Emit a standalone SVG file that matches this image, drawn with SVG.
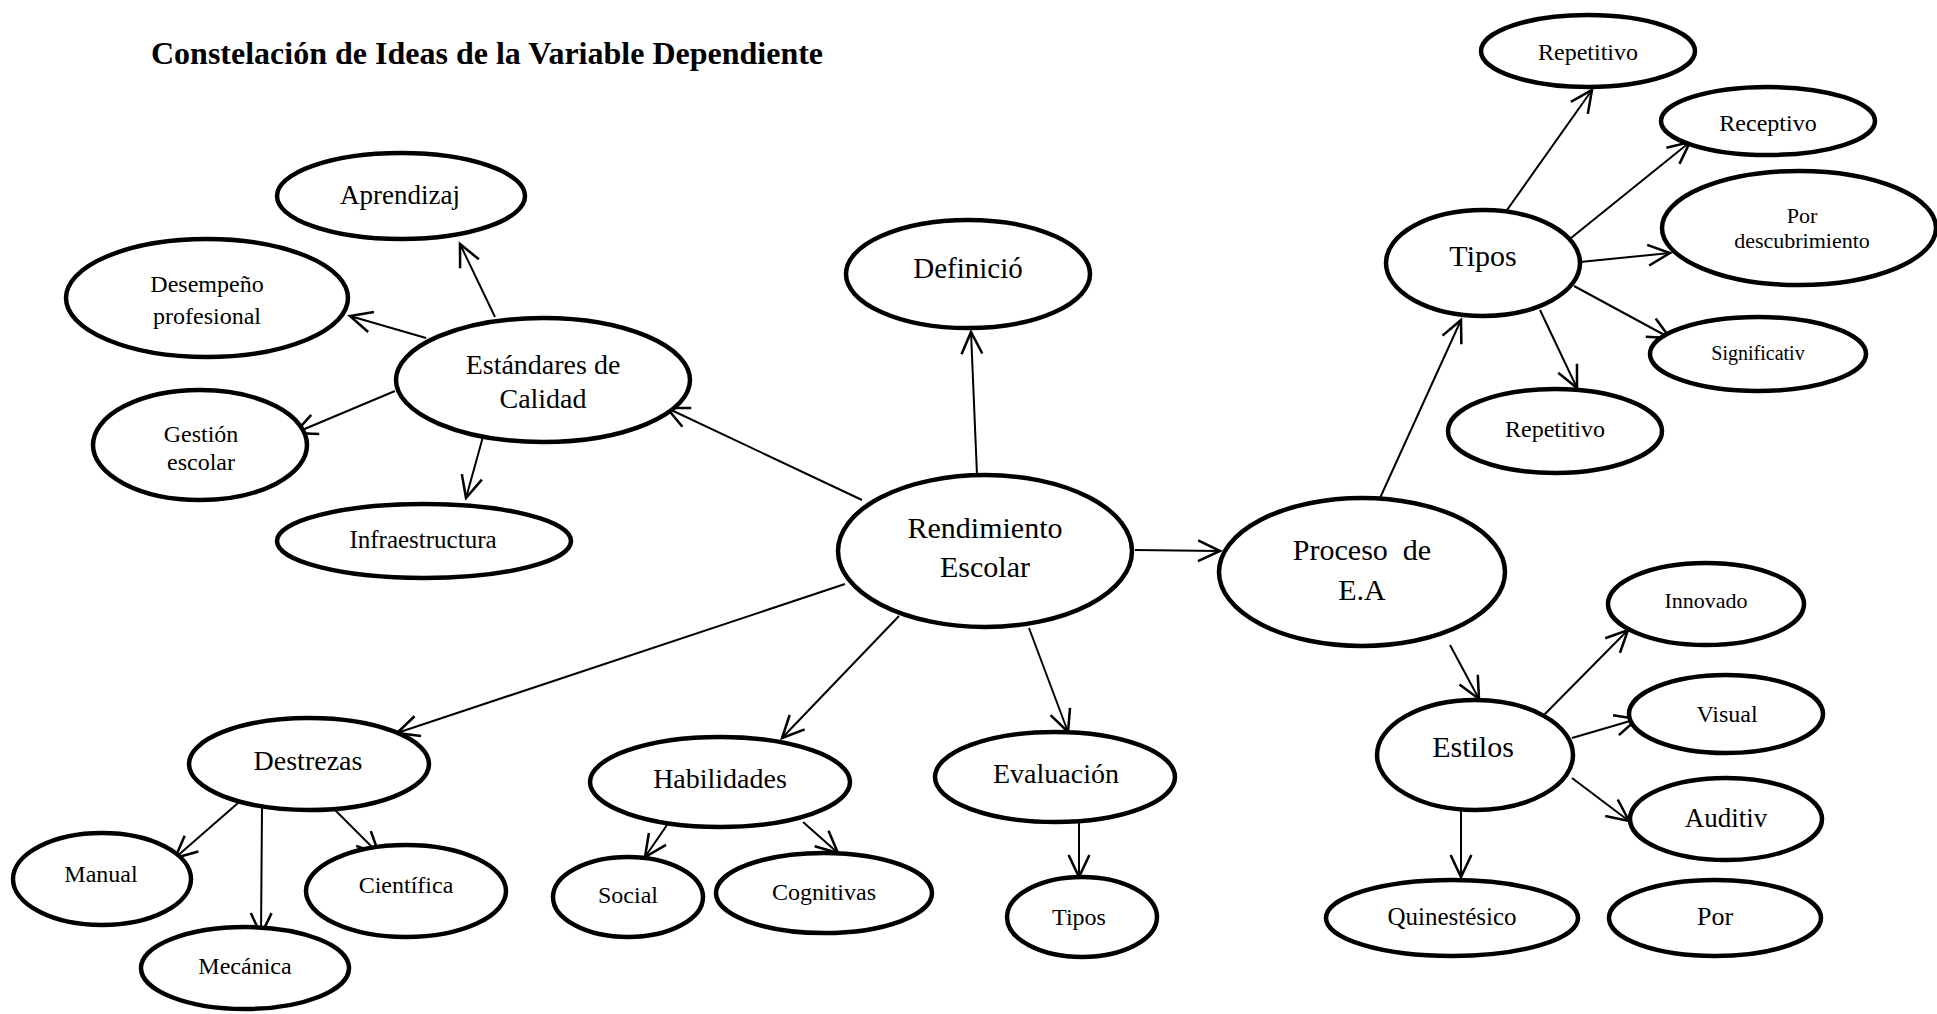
<svg xmlns="http://www.w3.org/2000/svg" width="1937" height="1014" viewBox="0 0 1937 1014">
<style>
.n ellipse{fill:#fff;stroke:#000;stroke-width:4.5}
.n text{font-family:"Liberation Serif","Times New Roman",serif;fill:#000;text-anchor:middle}
.c line{stroke:#000;stroke-width:2;marker-end:url(#a)}
.t{font-family:"Liberation Serif","Times New Roman",serif;font-weight:bold;font-size:32px}
</style>
<defs>
<marker id="a" markerUnits="userSpaceOnUse" markerWidth="30" markerHeight="30" viewBox="-22 -12 26 24" refX="0" refY="0" orient="auto">
<path d="M-19,-9 L0,0 L-19,9" fill="none" stroke="#000" stroke-width="2.2"/>
</marker>
</defs>
<rect width="1937" height="1014" fill="#fff"/>
<text class="t" x="151" y="64">Constelación de Ideas de la Variable Dependiente</text>
<g class="c" id="connectors">
<line x1="862" y1="500" x2="667" y2="408"/>
<line x1="977" y1="475" x2="971" y2="332"/>
<line x1="1135" y1="550" x2="1220" y2="551"/>
<line x1="845" y1="584" x2="397" y2="733"/>
<line x1="899" y1="616" x2="782" y2="738"/>
<line x1="1029" y1="628" x2="1068" y2="732"/>
<line x1="495" y1="317" x2="460" y2="244"/>
<line x1="426" y1="338" x2="350" y2="316"/>
<line x1="395" y1="391" x2="295" y2="433"/>
<line x1="484" y1="433" x2="466" y2="498"/>
<line x1="1380" y1="498" x2="1461" y2="320"/>
<line x1="1507" y1="210" x2="1592" y2="90"/>
<line x1="1571" y1="238" x2="1690" y2="142"/>
<line x1="1580" y1="262" x2="1670" y2="253"/>
<line x1="1574" y1="286" x2="1670" y2="338"/>
<line x1="1540" y1="310" x2="1577" y2="388"/>
<line x1="1450" y1="645" x2="1479" y2="699"/>
<line x1="1540" y1="719" x2="1628" y2="630"/>
<line x1="1572" y1="738" x2="1637" y2="719"/>
<line x1="1572" y1="778" x2="1629" y2="821"/>
<line x1="1461" y1="810" x2="1461" y2="877"/>
<line x1="238" y1="803" x2="175" y2="858"/>
<line x1="262" y1="808" x2="261" y2="935"/>
<line x1="335" y1="810" x2="379" y2="854"/>
<line x1="667" y1="825" x2="645" y2="857"/>
<line x1="803" y1="822" x2="838" y2="853"/>
<line x1="1079" y1="823" x2="1079" y2="877"/>
</g>
<g class="n" id="aprendizaj"><ellipse cx="401" cy="196" rx="124" ry="43"/><text x="400" y="204" font-size="27">Aprendizaj</text></g>
<g class="n" id="desempeno"><ellipse cx="207" cy="298" rx="141" ry="59"/><text x="207" y="292" font-size="24">Desempeño</text><text x="207" y="324" font-size="24">profesional</text></g>
<g class="n" id="estandares"><ellipse cx="543" cy="380" rx="147" ry="62"/><text x="543" y="374" font-size="28">Estándares de</text><text x="543" y="408" font-size="28">Calidad</text></g>
<g class="n" id="gestion"><ellipse cx="200" cy="445" rx="107" ry="55"/><text x="201" y="442" font-size="24">Gestión</text><text x="201" y="470" font-size="24">escolar</text></g>
<g class="n" id="infraestructura"><ellipse cx="424" cy="541" rx="147" ry="37"/><text x="423" y="548" font-size="25">Infraestructura</text></g>
<g class="n" id="definicion"><ellipse cx="968" cy="274" rx="122" ry="54"/><text x="968" y="278" font-size="29">Definició</text></g>
<g class="n" id="rendimiento"><ellipse cx="985" cy="551" rx="147" ry="76"/><text x="985" y="538" font-size="30">Rendimiento</text><text x="985" y="577" font-size="30">Escolar</text></g>
<g class="n" id="proceso"><ellipse cx="1362" cy="572" rx="143" ry="74"/><text x="1362" y="560" font-size="30" xml:space="preserve">Proceso  de</text><text x="1362" y="600" font-size="30">E.A</text></g>
<g class="n" id="tipos1"><ellipse cx="1483" cy="263" rx="97" ry="53"/><text x="1483" y="266" font-size="30">Tipos</text></g>
<g class="n" id="repetitivo1"><ellipse cx="1588" cy="51" rx="107" ry="36"/><text x="1588" y="60" font-size="24">Repetitivo</text></g>
<g class="n" id="receptivo"><ellipse cx="1768" cy="121" rx="107" ry="34"/><text x="1768" y="131" font-size="24">Receptivo</text></g>
<g class="n" id="descubrimiento"><ellipse cx="1799" cy="228" rx="137" ry="57"/><text x="1802" y="223" font-size="22">Por</text><text x="1802" y="248" font-size="22">descubrimiento</text></g>
<g class="n" id="significativo"><ellipse cx="1758" cy="354" rx="108" ry="37"/><text x="1758" y="360" font-size="20">Significativ</text></g>
<g class="n" id="repetitivo2"><ellipse cx="1555" cy="431" rx="107" ry="42"/><text x="1555" y="437" font-size="24">Repetitivo</text></g>
<g class="n" id="destrezas"><ellipse cx="309" cy="764" rx="120" ry="46"/><text x="308" y="770" font-size="28">Destrezas</text></g>
<g class="n" id="habilidades"><ellipse cx="720" cy="782" rx="130" ry="45"/><text x="720" y="788" font-size="28">Habilidades</text></g>
<g class="n" id="manual"><ellipse cx="102" cy="879" rx="89" ry="46"/><text x="101" y="882" font-size="24">Manual</text></g>
<g class="n" id="mecanica"><ellipse cx="245" cy="968" rx="104" ry="41"/><text x="245" y="974" font-size="24">Mecánica</text></g>
<g class="n" id="cientifica"><ellipse cx="406" cy="891" rx="100" ry="46"/><text x="406" y="893" font-size="24">Científica</text></g>
<g class="n" id="social"><ellipse cx="628" cy="897" rx="75" ry="40"/><text x="628" y="903" font-size="24">Social</text></g>
<g class="n" id="cognitivas"><ellipse cx="824" cy="893" rx="108" ry="40"/><text x="824" y="900" font-size="24">Cognitivas</text></g>
<g class="n" id="evaluacion"><ellipse cx="1055" cy="777" rx="120" ry="45"/><text x="1056" y="783" font-size="28">Evaluación</text></g>
<g class="n" id="tipos2"><ellipse cx="1082" cy="917" rx="75" ry="40"/><text x="1079" y="925" font-size="24">Tipos</text></g>
<g class="n" id="estilos"><ellipse cx="1475" cy="755" rx="98" ry="55"/><text x="1473" y="757" font-size="30">Estilos</text></g>
<g class="n" id="innovado"><ellipse cx="1706" cy="604" rx="98" ry="41"/><text x="1706" y="608" font-size="22">Innovado</text></g>
<g class="n" id="visual"><ellipse cx="1726" cy="714" rx="97" ry="39"/><text x="1727" y="722" font-size="24">Visual</text></g>
<g class="n" id="auditiv"><ellipse cx="1726" cy="819" rx="96" ry="41"/><text x="1726" y="827" font-size="27">Auditiv</text></g>
<g class="n" id="quinestesico"><ellipse cx="1452" cy="918" rx="126" ry="38"/><text x="1452" y="925" font-size="25">Quinestésico</text></g>
<g class="n" id="por"><ellipse cx="1715" cy="918" rx="106" ry="38"/><text x="1715" y="925" font-size="26">Por</text></g>
</svg>
